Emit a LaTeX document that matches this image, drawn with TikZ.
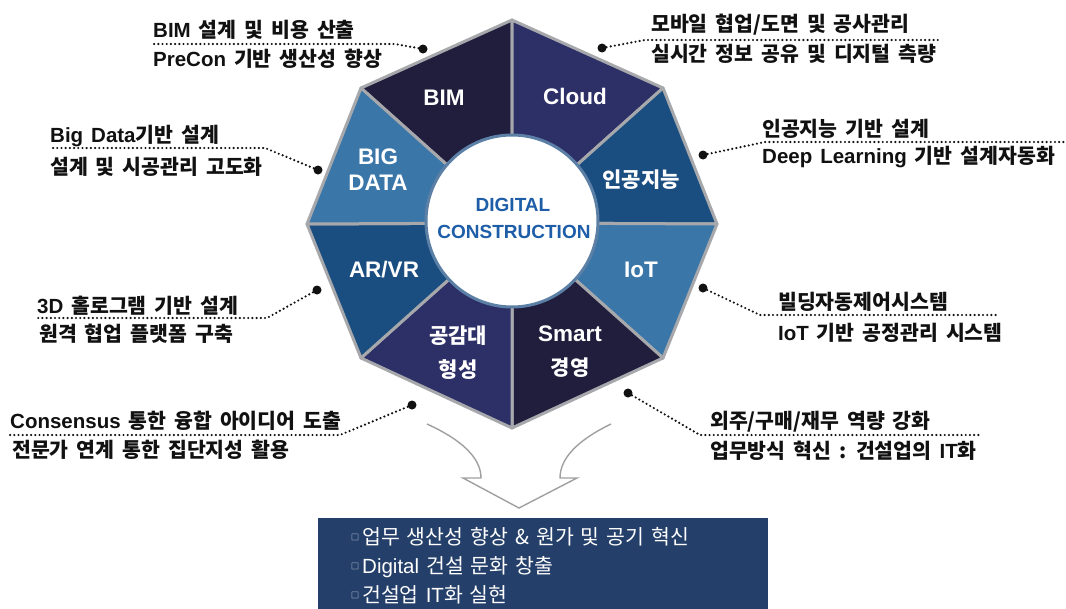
\documentclass[tikz,border=0pt]{standalone}
\usepackage{fontspec}
\setmainfont{Noto Sans CJK KR}
\newfontfamily\lat{Liberation Sans}

\definecolor{navydark}{HTML}{201D3D}
\definecolor{indigo}{HTML}{2D2F67}
\definecolor{steelmid}{HTML}{1A4D80}
\definecolor{steellight}{HTML}{3A76A8}
\definecolor{seggap}{HTML}{A6A8AC}
\definecolor{ringblue}{HTML}{5B7FA5}
\definecolor{coreblue}{HTML}{1E5DA8}
\definecolor{labelink}{HTML}{111111}
\definecolor{boxnavy}{HTML}{243F69}
\definecolor{arrowgray}{HTML}{A0A0A0}

\newcommand{\sqbullet}{\raisebox{3.5pt}{\fontsize{8}{8}\selectfont □}\hspace{3pt}}

\begin{document}
\begin{tikzpicture}[x=1pt,y=-1pt,
  seg/.style={draw=seggap, line width=3pt, line join=round},
  segkr/.style={text=white, align=center, inner sep=0pt,
    font=\bfseries\fontsize{21}{34}\selectfont},
  seglat/.style={text=white, align=center, inner sep=0pt,
    font=\lat\bfseries\fontsize{22.5}{26}\selectfont},
  lbl/.style={anchor=base west, inner sep=0pt, text=labelink,
    font={\bfseries\fontsize{20.5}{23}\selectfont\spaceskip=8pt plus 1pt\relax}},
  leader/.style={draw=labelink, line width=2.4pt, dash pattern=on 0pt off 4.2pt, line cap=round},
  pin/.style={circle, fill=labelink, inner sep=0pt, minimum size=9pt},
  corelabel/.style={text=coreblue, inner sep=0pt, font=\lat\bfseries\fontsize{19}{22}\selectfont},
  outline/.style={anchor=base west, inner sep=0pt, text=white,
    font={\fontsize{20.5}{24}\selectfont\spaceskip=7pt plus 1pt\relax}},
]
\useasboundingbox (0,0) rectangle (1066,608);

% octagon corners and hub
\coordinate (c)  at (512,223);
\coordinate (v0) at (512,20);
\coordinate (v1) at (663,88);
\coordinate (v2) at (717,224);
\coordinate (v3) at (663,358);
\coordinate (v4) at (512,428);
\coordinate (v5) at (361,358);
\coordinate (v6) at (307,224);
\coordinate (v7) at (361,88);

% hollow arrow below the octagon
\path[fill=white, draw=arrowgray, line width=1.4pt, line join=miter]
  (427,424) .. controls (462,440) and (481,458) .. (481,478)
  -- (463,478) -- (519,508) -- (577,478) -- (560,478)
  .. controls (560,458) and (578,440) .. (611,424);

% eight segments
\filldraw[seg, fill=navydark]  (c) -- (v7) -- (v0) -- cycle;
\filldraw[seg, fill=indigo]    (c) -- (v0) -- (v1) -- cycle;
\filldraw[seg, fill=steelmid]  (c) -- (v1) -- (v2) -- cycle;
\filldraw[seg, fill=steellight](c) -- (v2) -- (v3) -- cycle;
\filldraw[seg, fill=navydark]  (c) -- (v3) -- (v4) -- cycle;
\filldraw[seg, fill=indigo]    (c) -- (v4) -- (v5) -- cycle;
\filldraw[seg, fill=steelmid]  (c) -- (v5) -- (v6) -- cycle;
\filldraw[seg, fill=steellight](c) -- (v6) -- (v7) -- cycle;

% central disc
\node[circle, fill=white, draw=ringblue, line width=3pt, minimum size=172pt, inner sep=0pt] (core) at (512,221) {};
\node[corelabel] (coreA) at (513,205) {DIGITAL};
\node[corelabel] (coreB) at (514,232) {CONSTRUCTION};

% segment titles
\node[seglat] (sBIM)   at (444,98)  {BIM};
\node[seglat] (sCloud) at (575,96)  {Cloud};
\node[segkr]  (sAI)    at (641,180) {인공지능};
\node[seglat] (sIoT)   at (641,270) {IoT};
\node[segkr]  (sSmart) at (570,352) {{\lat\fontsize{22.5}{26}\selectfont Smart}\\경영};
\node[segkr]  (sSym)   at (458,353) {공감대\\형성};
\node[seglat] (sARVR)  at (384,270) {AR/VR};
\node[seglat] (sBig)   at (378,170) {BIG\\DATA};

% callout: BIM
\node[pin] (pBIM) at (423,49) {};
\coordinate (kBIM) at (395,44);
\coordinate (eBIM) at (153,44);
\draw[leader] (pBIM) -- (kBIM) -- (eBIM);
\node[lbl] (tBIM1) at (153,37) {{\lat BIM} 설계 및 비용 산출};
\node[lbl] (tBIM2) at (153,66) {{\lat PreCon} 기반 생산성 향상};

% callout: Cloud
\node[pin] (pCloud) at (602,48) {};
\coordinate (kCloud) at (645,40);
\coordinate (eCloud) at (940,40);
\draw[leader] (pCloud) -- (kCloud) -- (eCloud);
\node[lbl] (tCloud1) at (651,31) {모바일 협업/도면 및 공사관리};
\node[lbl] (tCloud2) at (651,61) {실시간 정보 공유 및 디지털 측량};

% callout: AI
\node[pin] (pAI) at (703,155) {};
\coordinate (kAI) at (765,142);
\coordinate (eAI) at (1066,142);
\draw[leader] (pAI) -- (kAI) -- (eAI);
\node[lbl] (tAI1) at (762,136) {인공지능 기반 설계};
\node[lbl] (tAI2) at (762,163) {{\lat Deep Learning} 기반 설계자동화};

% callout: IoT
\node[pin] (pIoT) at (703,288) {};
\coordinate (kIoT) at (760,315);
\coordinate (eIoT) at (998,315);
\draw[leader] (pIoT) -- (kIoT) -- (eIoT);
\node[lbl] (tIoT1) at (778,309) {빌딩자동제어시스템};
\node[lbl] (tIoT2) at (778,340) {{\lat IoT} 기반 공정관리 시스템};

% callout: Smart
\node[pin] (pSmart) at (628,393) {};
\coordinate (kSmart) at (700,435);
\coordinate (eSmart) at (980,435);
\draw[leader] (pSmart) -- (kSmart) -- (eSmart);
\node[lbl] (tSmart1) at (710,428) {외주/구매/재무 역량 강화};
\node[lbl] (tSmart2) at (710,458) {업무방식 혁신 : 건설업의 {\lat IT}화};

% callout: consensus
\node[pin] (pSym) at (412,405) {};
\coordinate (kSym) at (340,435);
\coordinate (eSym) at (10,435);
\draw[leader] (pSym) -- (kSym) -- (eSym);
\node[lbl] (tSym1) at (10,428) {{\lat Consensus} 통한 융합 아이디어 도출};
\node[lbl] (tSym2) at (12,457) {전문가 연계 통한 집단지성 활용};

% callout: AR/VR
\node[pin] (pAR) at (317,290) {};
\coordinate (kAR) at (267,318);
\coordinate (eAR) at (37,318);
\draw[leader] (pAR) -- (kAR) -- (eAR);
\node[lbl] (tAR1) at (37,313) {{\lat 3D} 홀로그램 기반 설계};
\node[lbl] (tAR2) at (39,341) {원격 협업 플랫폼 구축};

% callout: big data
\node[pin] (pBig) at (318,170) {};
\coordinate (kBig) at (265,148);
\coordinate (eBig) at (50,148);
\draw[leader] (pBig) -- (kBig) -- (eBig);
\node[lbl] (tBig1) at (50,142) {{\lat Big Data}기반 설계};
\node[lbl] (tBig2) at (50,174) {설계 및 시공관리 고도화};

% outcome panel
\node[fill=boxnavy, minimum width=450pt, minimum height=92pt, inner sep=0pt, anchor=north west] (panel) at (318,518) {};
\node[outline] (out1) at (351,544) {\sqbullet 업무 생산성 향상 \& 원가 및 공기 혁신};
\node[outline] (out2) at (351,573) {\sqbullet {\lat Digital} 건설 문화 창출};
\node[outline] (out3) at (351,602) {\sqbullet 건설업 {\lat IT}화 실현};
\end{tikzpicture}
\end{document}
